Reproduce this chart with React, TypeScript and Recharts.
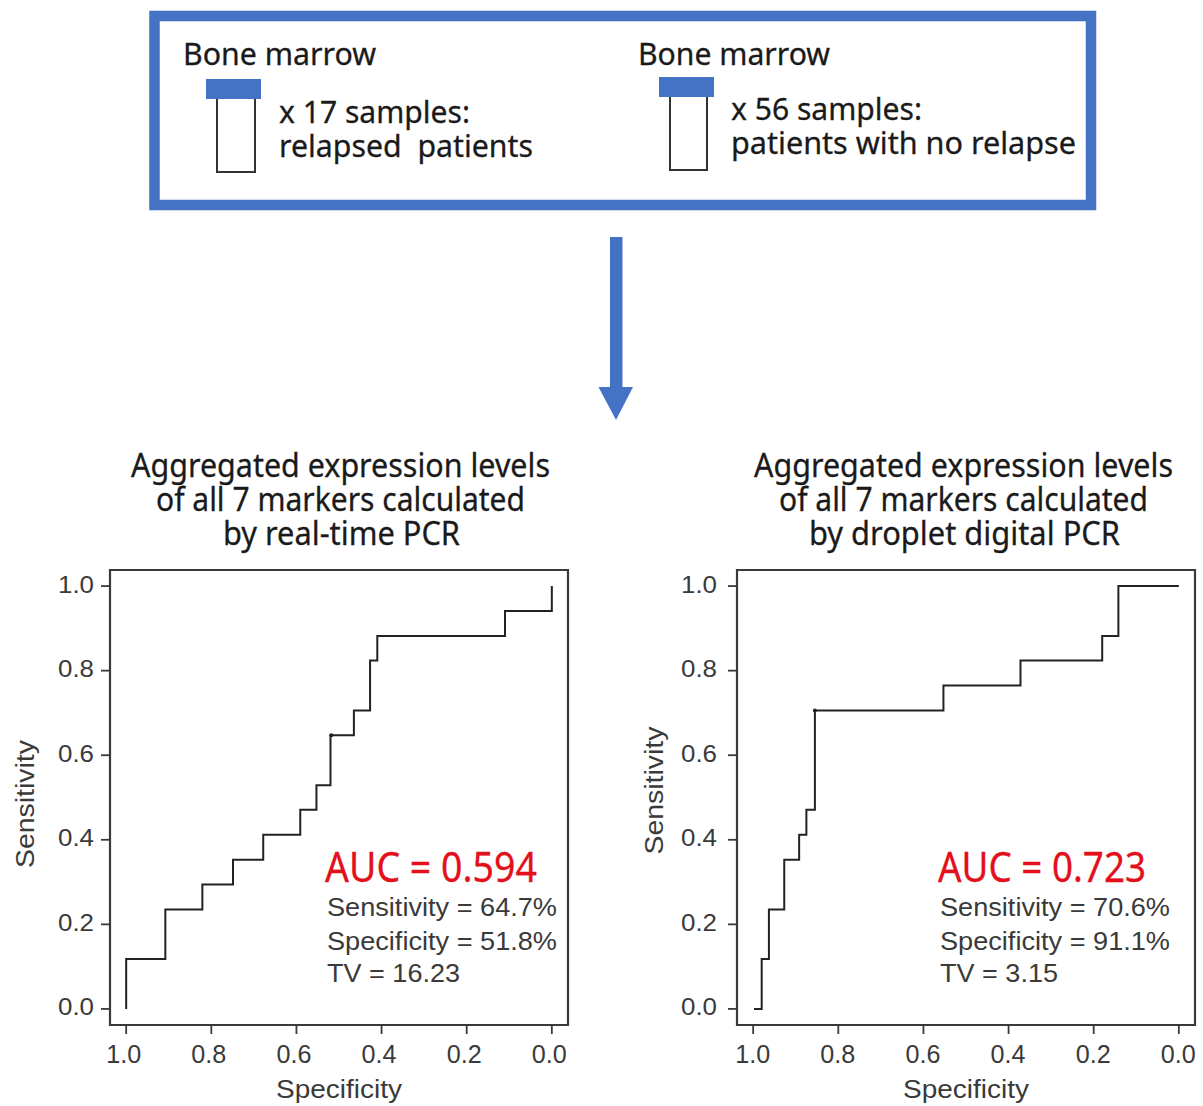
import React from 'react';
import { LineChart, Line, XAxis, YAxis, ReferenceArea, ReferenceDot, Label } from 'recharts';

const BLUE = '#4472c4';
const INK = '#3a3a3a';
const RED = '#e3101b';
const SANS = '"Liberation Sans", Arial, sans-serif';
const HUMAN = '"Noto Sans", sans-serif';

const tickValues = [0, 0.2, 0.4, 0.6, 0.8, 1];
const domainLow = -0.038;
const domainHigh = 1.038;

const rtSpecificity = [1, 1, 0.908, 0.821, 0.749, 0.678, 0.591, 0.553, 0.52, 0.465, 0.427, 0.41, 0.11, 0];
const rtSensitivity = [0, 0.118, 0.235, 0.294, 0.353, 0.412, 0.471, 0.529, 0.647, 0.706, 0.824, 0.882, 0.941, 1];
const ddSpecificity = [0.998, 0.98, 0.963, 0.927, 0.892, 0.875, 0.855, 0.553, 0.372, 0.18, 0.142, 0];
const ddSensitivity = [0, 0.118, 0.235, 0.353, 0.412, 0.471, 0.706, 0.765, 0.824, 0.882, 1, 1];

const rtCut = { x: 0.518, y: 0.647 };
const ddCut = { x: 0.855, y: 0.706 };

const zip = (xs: number[], ys: number[]) => xs.map((spec, i) => ({ spec, sens: ys[i] }));

const XTick = (p: any) => (
  <text x={p.x + (p.shift || 0)} y={p.y + 21} textAnchor="middle" fontFamily={SANS} fontSize={25} fill={INK} textLength={35} lengthAdjust="spacingAndGlyphs">
    {p.payload.value.toFixed(1)}
  </text>
);
const YTick = (p: any) => (
  <text x={p.x - 36 + (p.shift || 0)} y={p.y + 6.5} fontFamily={SANS} fontSize={24} fill={INK} textLength={36} lengthAdjust="spacingAndGlyphs">
    {p.payload.value.toFixed(1)}
  </text>
);

type RocProps = {
  left: number; width: number; marginLeft: number; marginRight: number;
  data: { spec: number; sens: number }[]; cut: { x: number; y: number };
  yLabelX: number; yLabelShift: number; xTickShift: number; yTickShift: number;
};

function Roc({ left, width, marginLeft, marginRight, data, cut, yLabelX, yLabelShift, xTickShift, yTickShift }: RocProps) {
  return (
    <div style={{ position: 'absolute', left, top: 560 }}>
      <LineChart width={width} height={546} data={data} margin={{ left: marginLeft, right: marginRight, top: 10, bottom: 21 }}>
        <XAxis
          type="number" dataKey="spec" reversed domain={[domainLow, domainHigh]} allowDataOverflow
          ticks={tickValues} interval={0} height={60} tickSize={9} tickMargin={8}
          stroke={INK} strokeWidth={1.8} axisLine={false} tick={<XTick shift={xTickShift} />}
        >
          <Label content={(p: any) => (
            <text x={p.viewBox.x + p.viewBox.width / 2} y={p.viewBox.y + 73} textAnchor="middle" fontFamily={SANS} fontSize={25} fill={INK} textLength={126} lengthAdjust="spacingAndGlyphs">Specificity</text>
          )} />
        </XAxis>
        <YAxis
          type="number" domain={[domainLow, domainHigh]} allowDataOverflow
          ticks={tickValues} interval={0} width={60} tickSize={9} tickMargin={8}
          stroke={INK} strokeWidth={1.8} axisLine={false} tick={<YTick shift={yTickShift} />}
        >
          <Label content={(p: any) => {
            const cy = p.viewBox.y + p.viewBox.height / 2 + yLabelShift;
            return (
              <text x={yLabelX} y={cy} transform={`rotate(-90 ${yLabelX} ${cy})`} textAnchor="middle" fontFamily={SANS} fontSize={26} fill={INK} textLength={128} lengthAdjust="spacingAndGlyphs">Sensitivity</text>
            );
          }} />
        </YAxis>
        <ReferenceArea x1={domainLow} x2={domainHigh} y1={domainLow} y2={domainHigh} fill="none" stroke={INK} strokeWidth={2.2} ifOverflow="visible" />
        <Line type="stepAfter" dataKey="sens" stroke="#222222" strokeWidth={2} dot={false} isAnimationActive={false} />
        <ReferenceDot x={cut.x} y={cut.y} r={2} fill="#222222" stroke="none" />
      </LineChart>
    </div>
  );
}

const T = ({ x, y, w, size, font = HUMAN, fill = '#1a1a1a', heavy = 0.3, children }: any) => (
  <text x={x} y={y} fontFamily={font} fontSize={size} fill={fill} stroke={heavy ? fill : 'none'} strokeWidth={heavy} textLength={w} lengthAdjust="spacingAndGlyphs" xmlSpace="preserve">
    {children}
  </text>
);

const Tube = ({ capX, capY, bodyX, bodyW, bottom }: any) => (
  <g>
    <rect x={bodyX} y={capY + 10} width={bodyW} height={bottom - capY - 10} fill="#fff" stroke="#333" strokeWidth={2} />
    <rect x={capX} y={capY} width={55} height={20} fill={BLUE} />
  </g>
);

export default function App() {
  return (
    <div style={{ position: 'absolute', left: 0, top: 0, width: 1203, height: 1106, overflow: 'hidden', background: '#fff' }}>
      <svg width={1203} height={1106} style={{ position: 'absolute', left: 0, top: 0 }}>
        <rect x={154.5} y={16} width={936.5} height={189} fill="none" stroke={BLUE} strokeWidth={10.5} />
        <Tube capX={206} capY={79} bodyX={217} bodyW={38} bottom={172} />
        <Tube capX={659} capY={77} bodyX={670} bodyW={37} bottom={170} />
        <T x={183} y={65} w={193} size={31}>Bone marrow</T>
        <T x={638} y={65} w={192} size={31}>Bone marrow</T>
        <T x={279} y={123} w={191} size={31}>x 17 samples:</T>
        <T x={279} y={157} w={254} size={31}>relapsed  patients</T>
        <T x={731} y={120} w={191} size={31}>x 56 samples:</T>
        <T x={731} y={154} w={345} size={31}>patients with no relapse</T>
        <rect x={610} y={237} width={12.5} height={151} fill={BLUE} />
        <polygon points="598.5,387 633,387 616,420" fill={BLUE} />
        <T x={131} y={477} w={419} size={33}>Aggregated expression levels</T>
        <T x={156} y={510.5} w={369} size={33}>of all 7 markers calculated</T>
        <T x={223} y={545} w={237} size={33}>by real-time PCR</T>
        <T x={754} y={477} w={419} size={33}>Aggregated expression levels</T>
        <T x={779} y={510.5} w={369} size={33}>of all 7 markers calculated</T>
        <T x={809} y={545} w={311} size={33}>by droplet digital PCR</T>
      </svg>
      <Roc left={0} width={600} marginLeft={50} marginRight={32} data={zip(rtSpecificity, rtSensitivity)} cut={rtCut} yLabelX={34} yLabelShift={6.5} xTickShift={-2.5} yTickShift={1} />
      <Roc left={620} width={583} marginLeft={57} marginRight={8} data={zip(ddSpecificity, ddSensitivity)} cut={ddCut} yLabelX={42.5} yLabelShift={-7} xTickShift={-0.5} yTickShift={-3} />
      <svg width={1203} height={1106} style={{ position: 'absolute', left: 0, top: 0, pointerEvents: 'none' }}>
        <T x={325} y={882} w={212} size={41} fill={RED}>AUC = 0.594</T>
        <T x={327} y={916} w={230} size={25} font={SANS} fill={INK} heavy={0}>Sensitivity = 64.7%</T>
        <T x={327} y={950} w={230} size={25} font={SANS} fill={INK} heavy={0}>Specificity = 51.8%</T>
        <T x={327} y={982} w={133} size={25} font={SANS} fill={INK} heavy={0}>TV = 16.23</T>
        <T x={938} y={882} w={208} size={41} fill={RED}>AUC = 0.723</T>
        <T x={940} y={916} w={230} size={25} font={SANS} fill={INK} heavy={0}>Sensitivity = 70.6%</T>
        <T x={940} y={950} w={230} size={25} font={SANS} fill={INK} heavy={0}>Specificity = 91.1%</T>
        <T x={940} y={982} w={118} size={25} font={SANS} fill={INK} heavy={0}>TV = 3.15</T>
      </svg>
    </div>
  );
}
